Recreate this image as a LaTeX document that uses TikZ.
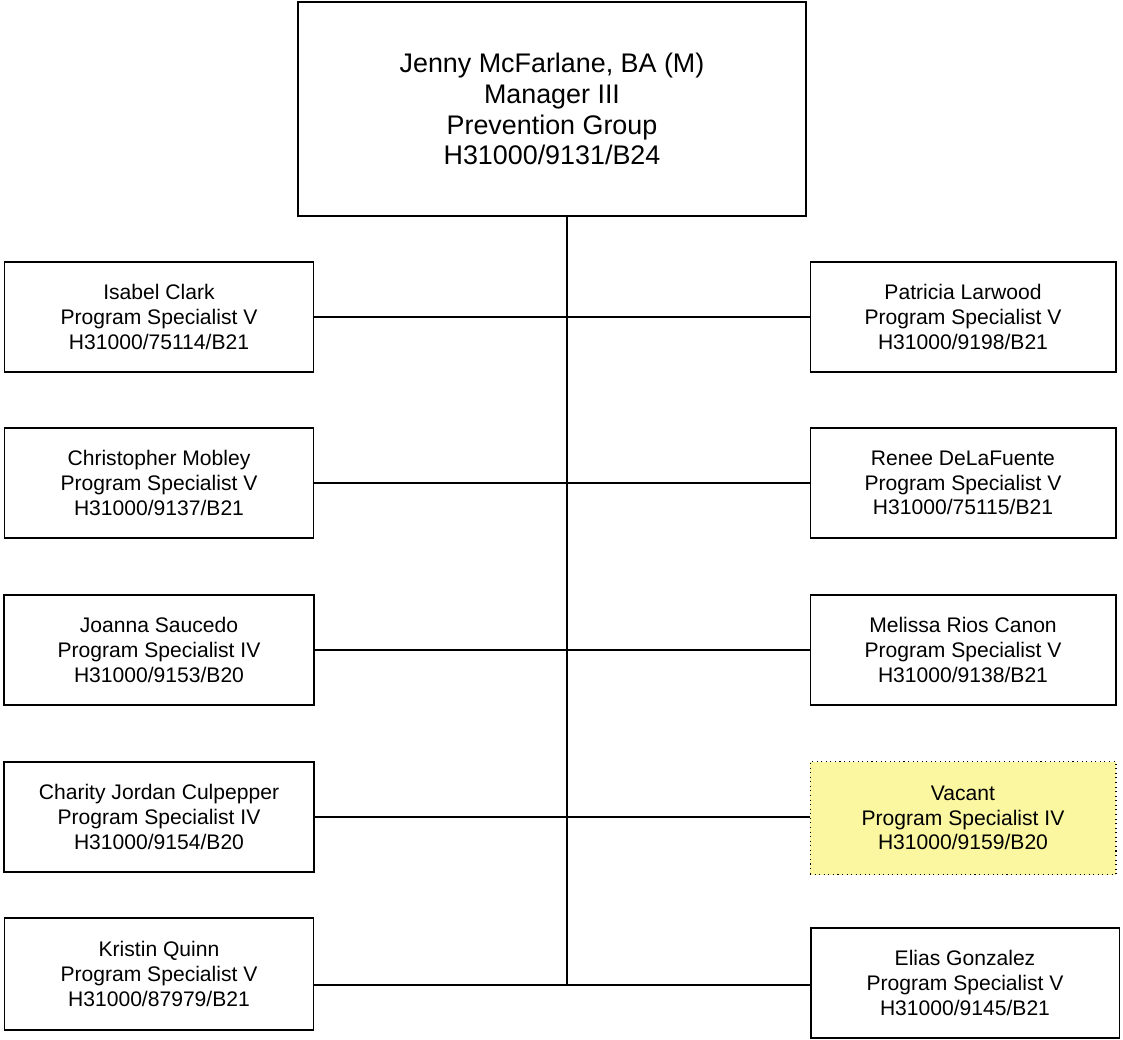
\documentclass[tikz,border=0pt]{standalone}
\usepackage{fontspec}
\setmainfont{Liberation Sans}
\usetikzlibrary{positioning}
\definecolor{vacantfill}{RGB}{250,247,160}
\tikzset{
  posbox/.style={rectangle, draw, line width=0.6pt, minimum width=6.2cm, minimum height=2.2cm,
    align=center, font=\fontsize{12}{14}\selectfont},
  keybox/.style={posbox, line width=1.1pt},
  vacbox/.style={posbox, dotted, fill=vacantfill},
  mgrbox/.style={rectangle, draw, line width=1.5pt, minimum width=10.16cm, minimum height=4.28cm,
    align=center, font=\fontsize{15.3}{17.6}\selectfont},
}
\begin{document}
\begin{tikzpicture}[x=0.02cm, y=-0.02cm]
\useasboundingbox (0,0) rectangle (1123,1039);
\node [mgrbox] (mgr) at (552,109) {Jenny McFarlane, BA (M)\\Manager III\\Prevention Group\\H31000/9131/B24};
% left column
\node [posbox] (l1) at (159,317) {Isabel Clark\\Program Specialist V\\H31000/75114/B21};
\node [posbox] (l2) at (159,483) {Christopher Mobley\\Program Specialist V\\H31000/9137/B21};
\node [keybox] (l3) at (159,650) {Joanna Saucedo\\Program Specialist IV\\H31000/9153/B20};
\node [keybox] (l4) at (159,817) {Charity Jordan Culpepper\\Program Specialist IV\\H31000/9154/B20};
\node [posbox, minimum height=2.24cm] (l5) at (159,974) {Kristin Quinn\\Program Specialist V\\H31000/87979/B21};
% right column
\node [posbox, minimum width=6.12cm] (r1) at (963,317) {Patricia Larwood\\Program Specialist V\\H31000/9198/B21};
\node [posbox, minimum width=6.12cm] (r2) at (963,483) {Renee DeLaFuente\\Program Specialist V\\H31000/75115/B21};
\node [posbox, minimum width=6.12cm] (r3) at (963,650) {Melissa Rios Canon\\Program Specialist V\\H31000/9138/B21};
\node [vacbox, minimum width=6.12cm, minimum height=2.26cm] (r4) at (963,818) {Vacant\\Program Specialist IV\\H31000/9159/B20};
\node [keybox, minimum width=6.18cm] (r5) at (965,983) {Elias Gonzalez\\Program Specialist V\\H31000/9145/B21};
% spine
\coordinate (top) at (567,216);
\coordinate (bot) at (567,985);
\draw [line width=0.6pt] (top) -- (bot);
\draw [line width=0.6pt] (l1.east) -- (r1.west);
\draw [line width=0.6pt] (l2.east) -- (r2.west);
\draw [line width=0.6pt] (l3.east) -- (r3.west);
\draw [line width=0.6pt] (l4.east) -- (l4.east -| r4.west);
\draw [line width=0.6pt] (l5.east |- bot) -- (r5.west |- bot);
\end{tikzpicture}
\end{document}
